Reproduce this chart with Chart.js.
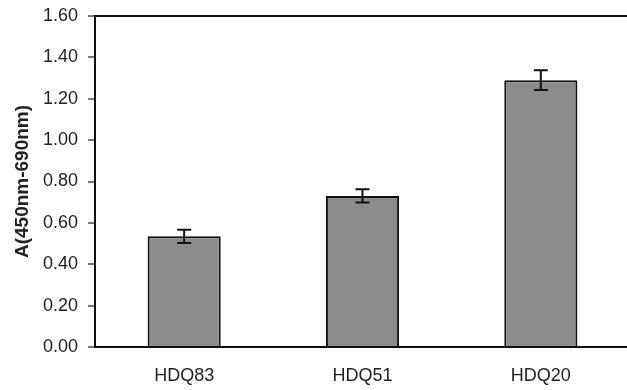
<!DOCTYPE html>
<html>
<head>
<meta charset="utf-8">
<script src="https://cdn.jsdelivr.net/npm/chart.js@4/dist/chart.umd.min.js"></script>
<style>
  html, body { margin: 0; padding: 0; background: #fff; overflow: hidden; }
  #wrap { width: 632px; height: 390px; }
</style>
</head>
<body>
<div id="wrap"><canvas id="chart"></canvas></div>
<script>
const categories = ["HDQ83", "HDQ51", "HDQ20"];
const absorbance = [0.535, 0.73, 1.29];
const errors = [0.032, 0.032, 0.048];

// draws the T-shaped error bars on top of each bar
const errorBars = {
  id: "errorBars",
  afterDatasetsDraw(chart) {
    const ctx = chart.ctx;
    const yScale = chart.scales.y;
    const meta = chart.getDatasetMeta(0);
    ctx.save();
    ctx.strokeStyle = "#111";
    ctx.lineWidth = 2;
    meta.data.forEach((bar, i) => {
      const x = bar.x;
      const top = yScale.getPixelForValue(absorbance[i] + errors[i]);
      const bottom = yScale.getPixelForValue(absorbance[i] - errors[i]);
      ctx.beginPath();
      ctx.moveTo(x, top);
      ctx.lineTo(x, bottom);
      ctx.moveTo(x - 7, top);
      ctx.lineTo(x + 7, top);
      ctx.moveTo(x - 7, bottom);
      ctx.lineTo(x + 7, bottom);
      ctx.stroke();
    });
    ctx.restore();
  }
};

new Chart(document.getElementById("chart"), {
  type: "bar",
  data: {
    labels: categories,
    datasets: [
      {
        data: absorbance,
        backgroundColor: "#8c8c8c",
        borderColor: "#111",
        borderWidth: 2,
        borderSkipped: "bottom",
        categoryPercentage: 1,
        barPercentage: 0.41,
      },
    ],
  },
  options: {
    responsive: true,
    maintainAspectRatio: false,
    animation: false,
    layout: { padding: { top: 16, left: 0, right: 2, bottom: 0 } },
    plugins: {
      legend: { display: false },
      tooltip: { enabled: false },
    },
    scales: {
      x: {
        grid: { display: false, drawTicks: false },
        border: { display: true, color: "#111", width: 2 },
        ticks: {
          color: "#222",
          padding: 18,
          font: { family: "Arial, 'Liberation Sans'", size: 18 },
        },
        afterFit(scale) {
          scale.height = 43;
        },
      },
      y: {
        min: 0,
        max: 1.6,
        ticks: {
          stepSize: 0.2,
          color: "#222",
          padding: 10,
          font: { family: "Arial, 'Liberation Sans'", size: 18 },
          callback: (v) => Number(v).toFixed(2),
        },
        grid: {
          color: (c) => (c.tick && Math.abs(c.tick.value - 1.6) < 1e-9 ? "#111" : "rgba(0,0,0,0)"),
          lineWidth: 2,
          tickColor: "#777",
          tickLength: 7,
          drawTicks: true,
        },
        border: { display: true, color: "#111", width: 2 },
        title: {
          display: true,
          text: "A(450nm-690nm)",
          color: "#222",
          padding: { top: 11, bottom: 2 },
          font: { family: "Arial, 'Liberation Sans'", size: 19, weight: "bold" },
        },
        afterFit(scale) {
          scale.width = 95;
          scale.paddingTop = 0;
          scale.paddingBottom = 0;
        },
      },
    },
  },
  plugins: [errorBars],
});
</script>
</body>
</html>
